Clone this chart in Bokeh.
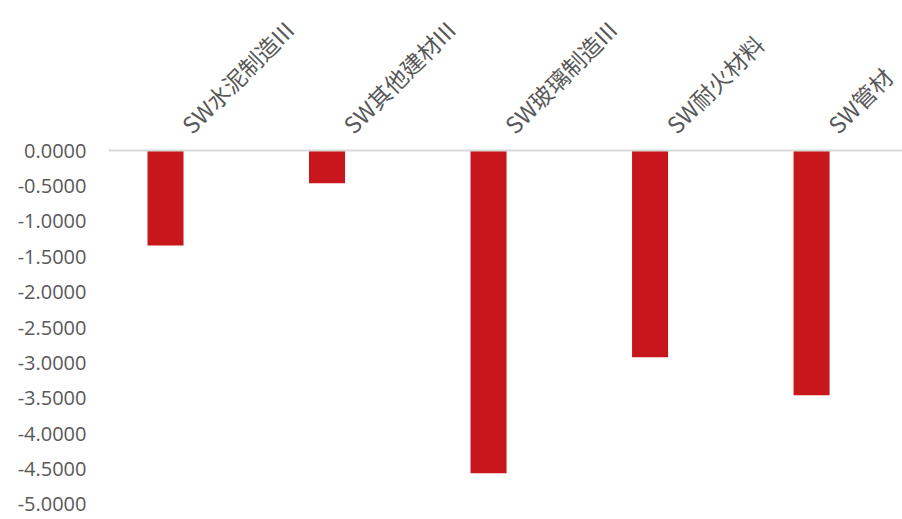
import math
from bokeh.plotting import figure
from bokeh.models import ColumnDataSource, FixedTicker, NumeralTickFormatter, Span, Range1d
from bokeh.core.properties import value
from bokeh.embed import file_html
from bokeh.resources import INLINE

categories = ["SW水泥制造III", "SW其他建材III", "SW玻璃制造III", "SW耐火材料", "SW管材"]
values = [-1.342, -0.462, -4.557, -2.919, -3.456]
tick_values = [0.0, -0.5, -1.0, -1.5, -2.0, -2.5, -3.0, -3.5, -4.0, -4.5, -5.0]

xs = [i + 0.5 for i in range(len(categories))]
src = ColumnDataSource(dict(x=xs, top=[0.0] * len(values), bottom=values, cat=categories))

p = figure(width=902, height=519, output_backend="svg", toolbar_location=None,
           x_axis_location=None, y_axis_location="left",
           x_range=Range1d(0.147, 5.063), y_range=Range1d(-5.212, 2.119))
p.min_border_left = 108
p.min_border_right = 0
p.min_border_top = 0
p.min_border_bottom = 0
p.outline_line_color = None
p.background_fill_color = "white"
p.border_fill_color = "white"
p.xgrid.visible = False
p.ygrid.visible = False

ax = p.yaxis[0]
ax.ticker = FixedTicker(ticks=tick_values)
ax.formatter = NumeralTickFormatter(format="0.0000")
ax.axis_line_color = None
ax.major_tick_line_color = None
ax.minor_tick_line_color = None
ax.major_tick_out = 0
ax.major_tick_in = 0
ax.major_label_standoff = 22
ax.major_label_text_font = "Open Sans"
ax.major_label_text_font_size = "20px"
ax.major_label_text_color = "#595959"

p.vbar(x="x", top="top", bottom="bottom", width=0.223, source=src,
       fill_color="#C8161D", line_color=None)

p.add_layout(Span(location=0, dimension="width", line_color="#d9d9d9", line_width=2))

p.text(x="x", y="top", text="cat", source=src, angle=math.pi / 4,
       text_align="left", text_baseline="alphabetic", x_offset=20, y_offset=-22,
       text_font=value("Noto Sans CJK SC"), text_font_size="23px", text_color="#595959")

open("out.html", "w").write(file_html(p, INLINE))
